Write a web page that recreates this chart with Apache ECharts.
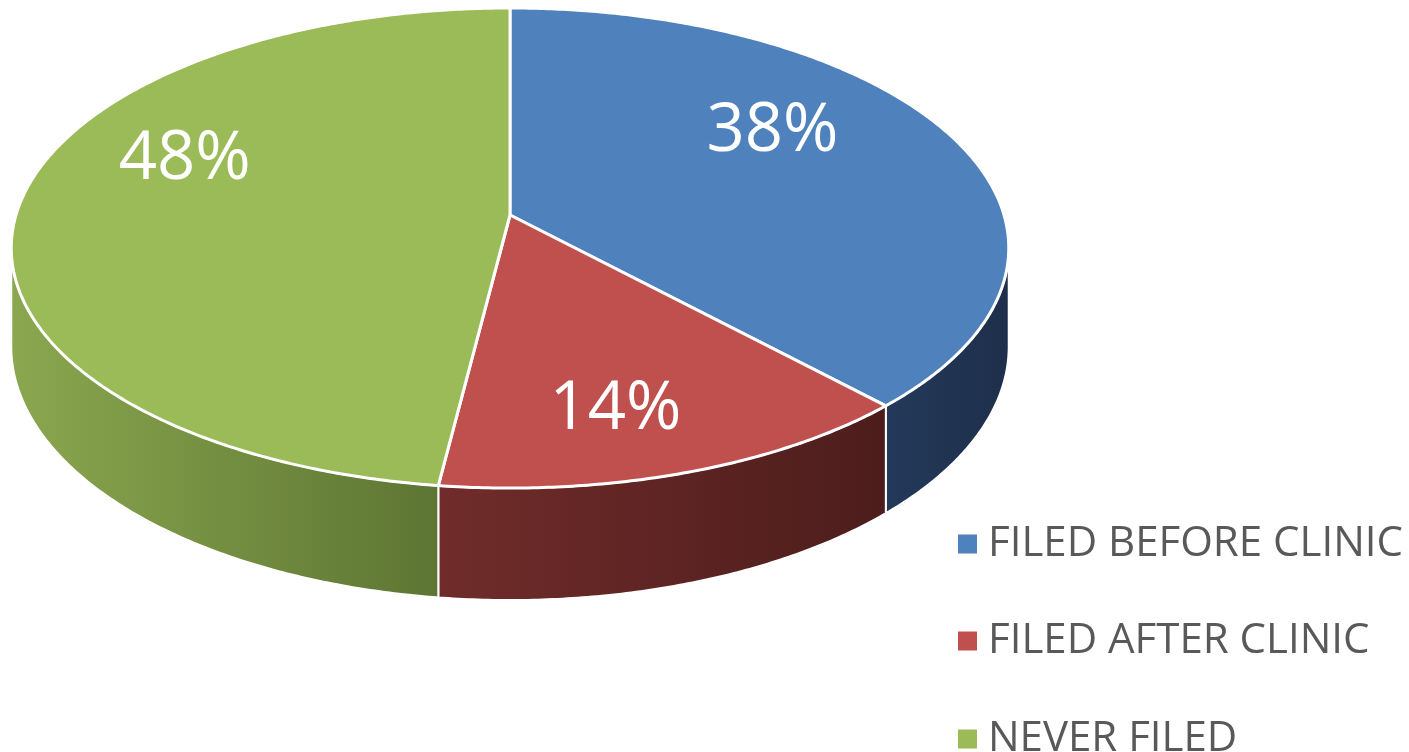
<!DOCTYPE html>
<html><head><meta charset="utf-8">
<script src="https://cdn.jsdelivr.net/npm/echarts@6/dist/echarts.min.js"></script>
<style>html,body{margin:0;padding:0;background:#fff}#c{width:1409px;height:752px}</style>
</head><body><div id="c"></div>
<script>
// ---- data ----
const categories = ['FILED BEFORE CLINIC', 'FILED AFTER CLINIC', 'NEVER FILED'];
const values = [38, 14, 48];

// ---- styles / layout ----
const topColors = ['#4F81BD', '#C0504D', '#9BBB59'];
const sideColors = [['#24395a', '#1d2f4a'], ['#702c2a', '#4c1d1c'], ['#8ba74f', '#5d7533']];
const labelNudge = [[-5, -33], [6, 49], [-31, -46]];
const legendTops = [517, 614, 712];
const P = { cx: 510, cy: 215, A: 494, B: 235.5, k: 0.1375, H: 96.6 };

const total = values.reduce((a, b) => a + b, 0);
function startAngle(i) { let s = 0; for (let j = 0; j < i; j++) s += values[j]; return s / total * Math.PI * 2; }
function proj(theta, r) {
  const u = r * Math.sin(theta), v = r * Math.cos(theta);
  const w = 1 + P.k * v;
  return [P.cx + P.A * u / w, P.cy - P.B * v / w, w];
}
function rim(a, b) {
  const pts = []; const n = Math.max(2, Math.ceil((b - a) / (Math.PI / 360)));
  for (let s = 0; s <= n; s++) pts.push(proj(a + (b - a) * s / n, 1));
  return pts;
}
const thR = Math.acos(-P.k), thL = Math.PI * 2 - thR;

function buildSlice(i) {
  const a = startAngle(i), b = startAngle(i + 1);
  const children = [];
  const fa = Math.max(a, thR), fb = Math.min(b, thL);
  if (fb > fa) {
    const topPts = rim(fa, fb);
    const poly = topPts.map(p => [p[0], p[1]]);
    for (let s = topPts.length - 1; s >= 0; s--) { const p = topPts[s]; poly.push([p[0], p[1] + P.H / p[2]]); }
    children.push({
      type: 'polygon', z2: 1, shape: { points: poly },
      style: {
        fill: new echarts.graphic.LinearGradient(0, 0, 1, 0, [
          { offset: 0, color: sideColors[i][0] }, { offset: 1, color: sideColors[i][1] }]),
        stroke: '#fff', lineWidth: 2, lineJoin: 'round'
      }
    });
  }
  const c = proj(0, 0);
  const topPoly = [[c[0], c[1]]].concat(rim(a, b).map(p => [p[0], p[1]]));
  children.push({
    type: 'polygon', z2: 2, shape: { points: topPoly },
    style: { fill: topColors[i], stroke: '#fff', lineWidth: 3, lineJoin: 'round' }
  });
  const lp = proj((a + b) / 2, 0.6);
  children.push({
    type: 'text', z2: 10, x: lp[0] + labelNudge[i][0], y: lp[1] + labelNudge[i][1],
    style: { text: values[i] + '%', fill: '#ffffff', fontSize: 67, fontFamily: 'Open Sans', align: 'center', verticalAlign: 'middle' }
  });
  return { type: 'group', children };
}

const chart = echarts.init(document.getElementById('c'), null, { renderer: 'canvas' });
chart.setOption({
  backgroundColor: '#ffffff',
  animation: false,
  legend: categories.map((name, i) => ({
    orient: 'vertical', left: 953, top: legendTops[i], icon: 'rect', itemWidth: 19, itemHeight: 19,
    data: [name], selectedMode: false,
    textStyle: { fontFamily: 'Open Sans', fontSize: 42, color: '#595959', padding: [0, 0, 4, 6], lineHeight: 40 }
  })),
  series: categories.map((name, i) => ({
    type: 'custom', name, coordinateSystem: 'none', data: [values[i]], silent: true,
    itemStyle: { color: topColors[i] },
    renderItem: () => buildSlice(i)
  }))
});
</script></body></html>
